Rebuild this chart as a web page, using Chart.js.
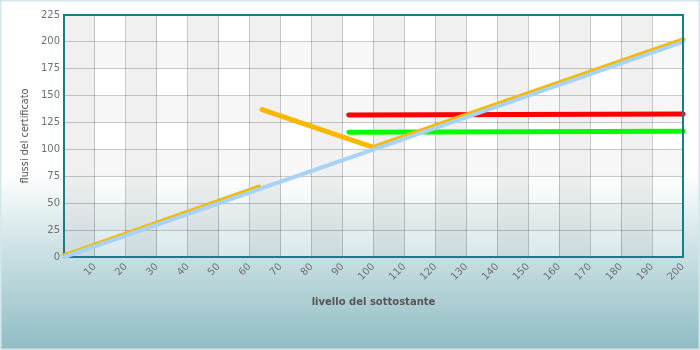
<!DOCTYPE html>
<html>
<head>
<meta charset="utf-8">
<script src="https://cdn.jsdelivr.net/npm/chart.js@4.4.1/dist/chart.umd.min.js"></script>
<style>
  body { margin: 0; background: #fff; }
  canvas { display: block; }
</style>
</head>
<body>
<canvas id="payoffChart" width="700" height="350"></canvas>
<script>
// underlying level (x) vs certificate flows (y)
const sottostanteX = [0, 200]
const sottostanteY = [0, 200]

// certificate payoff, two pieces (barrier jump around 63-64)
const certX1 = [0, 63]
const certY1 = [1, 65]
const certX2 = [64, 100, 200]
const certY2 = [137, 102, 202]

// horizontal levels
const rossoX = [92, 200]
const rossoY = [132, 133]
const verdeX = [92, 200]
const verdeY = [116, 117]

const xTicks = [10, 20, 30, 40, 50, 60, 70, 80, 90, 100, 110, 120, 130, 140, 150, 160, 170, 180, 190, 200]
const yTicks = [0, 25, 50, 75, 100, 125, 150, 175, 200, 225]

function pts(xs, ys) {
    return xs.map((x, i) => ({ x: x, y: ys[i] }))
}

const teal = "#1b7c87"

// page gradient + banded plot area
const background = {
    id: "background",
    beforeDraw(chart) {
        const ctx = chart.ctx
        const w = chart.width, h = chart.height
        const g = ctx.createLinearGradient(0, 0, 0, h)
        g.addColorStop(0, "#ffffff")
        g.addColorStop(0.49, "#ffffff")
        g.addColorStop(0.72, "#cbe0e4")
        g.addColorStop(1, "#8fbcc3")
        ctx.save()
        ctx.fillStyle = g
        ctx.fillRect(0, 0, w, h)
        ctx.strokeStyle = "#d3e7ea"
        ctx.lineWidth = 1.5
        ctx.strokeRect(0.75, 0.75, w - 1.5, h - 1.5)

        const a = chart.chartArea
        const xs = chart.scales.x, ys = chart.scales.y
        ctx.fillStyle = "rgba(255,255,255,0.3)"
        ctx.fillRect(a.left, a.top, a.right - a.left, a.bottom - a.top)
        for (let v = 0; v < 200; v += 10) {
            const x0 = xs.getPixelForValue(v), x1 = xs.getPixelForValue(v + 10)
            if ((v / 10) % 2 == 0) {
                ctx.fillStyle = "rgba(0,0,0,0.06)"
                ctx.fillRect(x0, a.top, x1 - x0, a.bottom - a.top)
            } else {
                for (let r = 1; r < 9; r += 2) {
                    const y0 = ys.getPixelForValue(r * 25 + 25), y1 = ys.getPixelForValue(r * 25)
                    ctx.fillStyle = "rgba(0,0,0,0.03)"
                    ctx.fillRect(x0, y0, x1 - x0, y1 - y0)
                }
            }
        }
        ctx.restore()
    },
    afterDatasetsDraw(chart) {
        const ctx = chart.ctx
        const a = chart.chartArea
        ctx.save()
        ctx.strokeStyle = teal
        ctx.lineWidth = 2
        ctx.beginPath()
        ctx.moveTo(a.left, a.top)
        ctx.lineTo(a.right, a.top)
        ctx.lineTo(a.right, a.bottom)
        ctx.stroke()
        ctx.restore()
    }
}

function serie(data, color, width) {
    return {
        data: data,
        borderColor: color,
        backgroundColor: color,
        borderWidth: width,
        borderCapStyle: "round",
        borderJoinStyle: "round",
        pointRadius: 0,
        tension: 0,
        fill: false,
        clip: false
    }
}

new Chart(document.getElementById("payoffChart"), {
    type: "line",
    data: {
        datasets: [
            serie(pts(sottostanteX, sottostanteY), "#a9d3f5", 4),
            serie(pts(certX1, certY1), "#f7b900", 5),
            serie(pts(certX2, certY2), "#f7b900", 5),
            serie(pts(rossoX, rossoY), "#ff0000", 5),
            serie(pts(verdeX, verdeY), "#00ff00", 5)
        ]
    },
    plugins: [background],
    options: {
        responsive: false,
        animation: false,
        layout: {
            padding: { left: 0, top: 15, right: 17, bottom: 0 }
        },
        plugins: {
            legend: { display: false },
            tooltip: { enabled: false }
        },
        scales: {
            x: {
                type: "linear",
                min: 0,
                max: 200,
                afterFit: (axis) => { axis.height = 93 },
                afterBuildTicks: (axis) => { axis.ticks = xTicks.map(v => ({ value: v })) },
                ticks: {
                    minRotation: 45,
                    maxRotation: 45,
                    padding: 4,
                    color: "#707070",
                    font: { family: "DejaVu Sans", size: 10 }
                },
                grid: {
                    color: "rgba(0,0,0,0.2)",
                    drawTicks: false
                },
                border: { color: teal, width: 2 },
                title: {
                    display: true,
                    text: "livello del sottostante",
                    color: "#555",
                    font: { family: "DejaVu Sans", size: 10, weight: "bold" },
                    padding: { top: 4, bottom: 42 }
                }
            },
            y: {
                min: 0,
                max: 225,
                afterFit: (axis) => { axis.width = 64 },
                afterBuildTicks: (axis) => { axis.ticks = yTicks.map(v => ({ value: v })) },
                ticks: {
                    padding: 4,
                    color: "#707070",
                    font: { family: "DejaVu Sans", size: 10 }
                },
                grid: {
                    color: "rgba(0,0,0,0.2)",
                    drawTicks: false
                },
                border: { color: teal, width: 2 },
                title: {
                    display: true,
                    text: "flussi del certificato",
                    color: "#555",
                    font: { family: "DejaVu Sans", size: 9.7 },
                    padding: { top: 20, bottom: 0 }
                }
            }
        }
    }
})
</script>
</body>
</html>
